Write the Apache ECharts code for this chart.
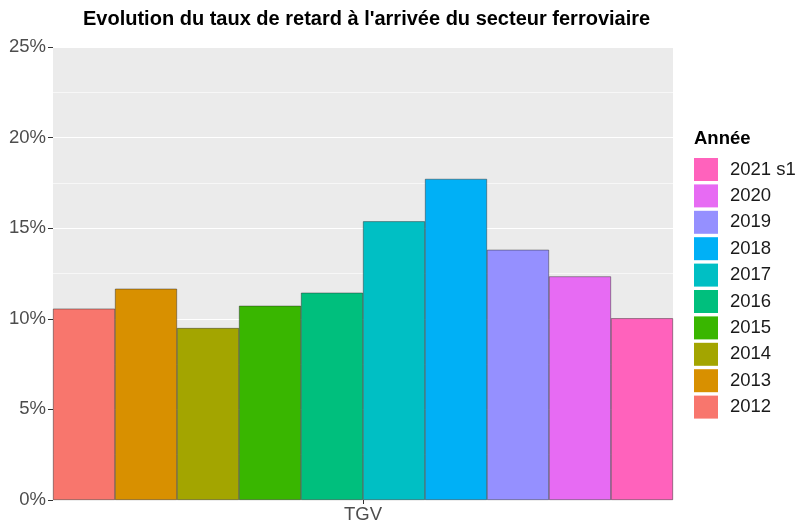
<!DOCTYPE html>
<html>
<head>
<meta charset="utf-8">
<script src="https://cdn.jsdelivr.net/npm/echarts@6/dist/echarts.min.js"></script>
<style>
  html, body { margin: 0; padding: 0; background: #fff; }
  #chart { width: 800px; height: 524px; }
</style>
</head>
<body>
<div id="chart"></div>
<script>
const categories = ['TGV'];
const years = ['2012', '2013', '2014', '2015', '2016', '2017', '2018', '2019', '2020', '2021 s1'];
const rates = [10.56, 11.66, 9.49, 10.72, 11.44, 15.38, 17.72, 13.81, 12.34, 10.03];
const colors = ['#F8766D', '#D89000', '#A3A500', '#39B600', '#00BF7D', '#00BFC4', '#00B0F6', '#9590FF', '#E76BF3', '#FF62BC'];
const yTicks = [0, 5, 10, 15, 20, 25];

const font = 'Liberation Sans, Arial, sans-serif';

const chart = echarts.init(document.getElementById('chart'));

const series = years.map((year, i) => {
    return {
        name: year,
        type: 'bar',
        data: [rates[i]],
        barGap: '0%',
        barCategoryGap: '0%',
        itemStyle: {
            color: colors[i],
            borderColor: 'rgba(40, 40, 40, 0.75)',
            borderWidth: 0.6,
        },
        emphasis: { disabled: true },
    };
});

chart.setOption({
    animation: false,
    color: colors,
    title: [
        {
            text: "Evolution du taux de retard à l'arrivée du secteur ferroviaire",
            left: 78,
            top: 4,
            textStyle: {
                fontFamily: font,
                fontSize: 20,
                fontWeight: 'bold',
                color: '#000',
            },
        },
        {
            text: 'Année',
            left: 689,
            top: 124,
            textStyle: {
                fontFamily: font,
                fontSize: 18.5,
                fontWeight: 'bold',
                color: '#000',
            },
        },
    ],
    legend: {
        orient: 'vertical',
        left: 689,
        top: 153,
        itemWidth: 24,
        itemHeight: 23,
        itemGap: 3.4,
        icon: 'rect',
        data: years.slice().reverse(),
        itemStyle: { borderWidth: 0 },
        textStyle: {
            fontFamily: font,
            fontSize: 18.5,
            color: '#1A1A1A',
            padding: [0, 0, 0, 7],
        },
        selectedMode: false,
    },
    grid: {
        left: 53,
        right: 127,
        top: 47,
        bottom: 24,
        show: true,
        backgroundColor: '#EBEBEB',
        borderWidth: 0,
    },
    xAxis: {
        type: 'category',
        data: categories,
        boundaryGap: true,
        axisLine: { show: false },
        axisTick: {
            show: true,
            alignWithLabel: true,
            length: 4,
            lineStyle: { color: '#333', width: 1 },
        },
        axisLabel: {
            fontFamily: font,
            fontSize: 18.5,
            color: '#4D4D4D',
            margin: 5,
        },
        splitLine: { show: false },
    },
    yAxis: {
        type: 'value',
        min: yTicks[0],
        max: yTicks[yTicks.length - 1],
        interval: 5,
        axisLine: { show: false },
        axisTick: {
            show: true,
            length: 5,
            lineStyle: { color: '#333', width: 1 },
        },
        axisLabel: {
            fontFamily: font,
            fontSize: 18.5,
            color: '#4D4D4D',
            margin: 7,
            formatter: '{value}%',
        },
        splitLine: {
            show: true,
            lineStyle: { color: '#FFFFFF', width: 1.2 },
        },
        minorTick: { show: false, splitNumber: 2 },
        minorSplitLine: {
            show: true,
            lineStyle: { color: '#FFFFFF', width: 0.6 },
        },
    },
    series: series,
});
</script>
</body>
</html>
